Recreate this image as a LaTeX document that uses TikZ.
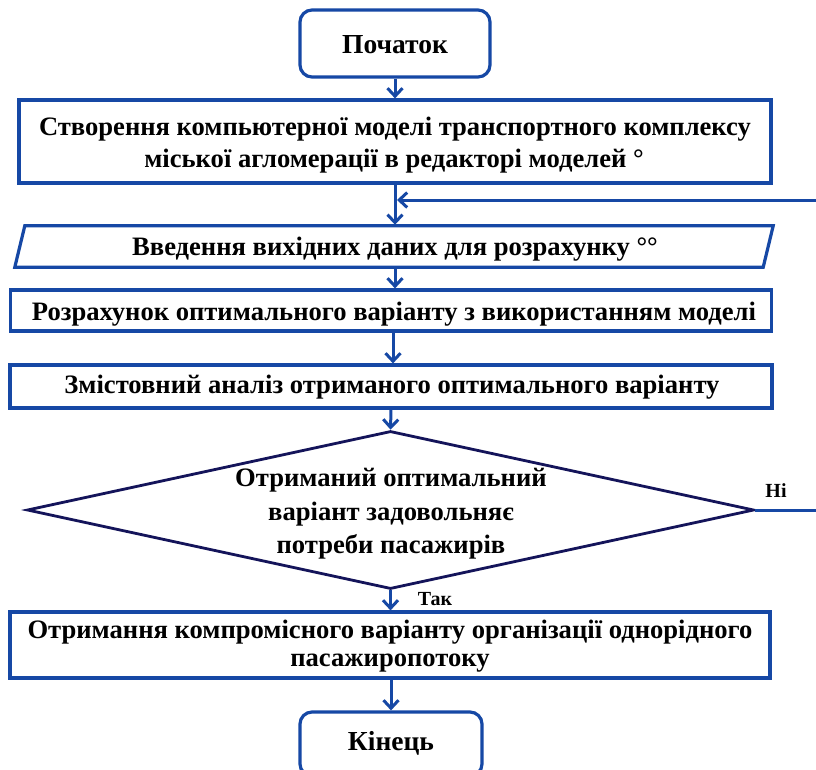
\documentclass[tikz,border=0pt]{standalone}
\usepackage{fontspec}
\setmainfont{Liberation Serif}
\usetikzlibrary{arrows.meta,shapes.geometric,calc}
\definecolor{fblue}{RGB}{22,72,165}
\definecolor{fnavy}{RGB}{20,20,90}
\tikzset{
  txt/.style={font=\bfseries\fontsize{26.6}{33}\selectfont, text=black, anchor=base, inner sep=0pt},
  bigtxt/.style={font=\bfseries\fontsize{27.5}{33}\selectfont, text=black, anchor=base, inner sep=0pt},
  procbox/.style={draw=fblue, line width=3.2pt, rectangle, inner sep=0pt},
  termbox/.style={draw=fblue, line width=3.2pt, rectangle, rounded corners=12pt, inner sep=0pt},
  flow/.style={draw=fblue, line width=3pt, -{Straight Barb[length=8pt,width=15pt,line width=3pt]}},
  plain/.style={draw=fblue, line width=3pt},
  lbl/.style={font=\bfseries\fontsize{20}{22}\selectfont, text=black, anchor=base, inner sep=0pt}
}
\begin{document}
\begin{tikzpicture}[x=1pt,y=-1pt]
\useasboundingbox (0,0) rectangle (816,769);
\fill[white] (0,0) rectangle (816,769);
% shapes
\node[termbox, minimum width=190pt, minimum height=67pt] (start) at (395,43.5) {};
\node[procbox, minimum width=752pt, minimum height=83pt] (b1) at (395,141.5) {};
\node[minimum width=758pt, minimum height=43pt, inner sep=0pt] (par) at (394,246.5) {};
\draw[fblue, line width=3.2pt] ($(par.south west)+(0,-1)$) -- ($(par.north west)+(10,1)$) -- ($(par.north east)+(0,1)$) -- ($(par.south east)+(-10,-1)$) -- cycle;
\node[procbox, minimum width=761pt, minimum height=41pt] (b3) at (391,310.5) {};
\node[procbox, minimum width=762pt, minimum height=43pt] (b4) at (391,386.5) {};
\node[diamond, draw=fnavy, line width=2.8pt, minimum width=727pt, minimum height=158pt, inner sep=0pt] (dec) at (390.5,510) {};
\node[procbox, minimum width=760pt, minimum height=66pt] (b5) at (390,645) {};
\node[termbox, minimum width=182pt, minimum height=64pt] (end) at (391,744) {};
% texts
\node[bigtxt] (tstart) at (395,53) {Початок};
\node[txt] (t1a) at (395,135) {Створення компьютерної моделі транспортного комплексу};
\node[txt] (t1b) at (394,167) {міської агломерації в редакторі моделей °};
\node[txt] (tpar) at (395,255) {Введення вихідних даних для розрахунку °°};
\node[txt] (t3) at (394,320.5) {Розрахунок оптимального варіанту з використанням моделі};
\node[txt] (t4) at (392,393) {Змістовний аналіз отриманого оптимального варіанту};
\node[txt] (td1) at (391,486) {Отриманий оптимальний};
\node[txt] (td2) at (391,520) {варіант задовольняє};
\node[txt] (td3) at (391,553) {потреби пасажирів};
\node[txt] (t5a) at (390,638) {Отримання компромісного варіанту організації однорідного};
\node[txt] (t5b) at (390,666) {пасажиропотоку};
\node[bigtxt] (tend) at (391,750) {Кінець};
% connectors
\coordinate (edgeA) at (816,510);
\coordinate (edgeB) at (816,200);
\coordinate (join) at (397,200);
\draw[flow] (start.south -| 395,0) -- (b1.north -| 395,0);
\draw[flow] (b1.south -| 395,0) -- (par.north -| 395,0);
\draw[flow] (par.south -| 395,0) -- (b3.north -| 395,0);
\draw[flow] (b3.south -| 393,0) -- (b4.north -| 393,0);
\draw[flow] (b4.south -| 391,0) -- (dec.north);
\draw[flow] (dec.south) -- (b5.north -| dec.south);
\draw[flow] (b5.south -| 391,0) -- (end.north -| 391,0);
\draw[plain] (dec.east) -- (edgeA);
\draw[flow] (edgeB) -- (join);
\node[lbl] (no) at (776,497) {Ні};
\node[lbl] (yes) at (435,605) {Так};
\end{tikzpicture}
\end{document}
